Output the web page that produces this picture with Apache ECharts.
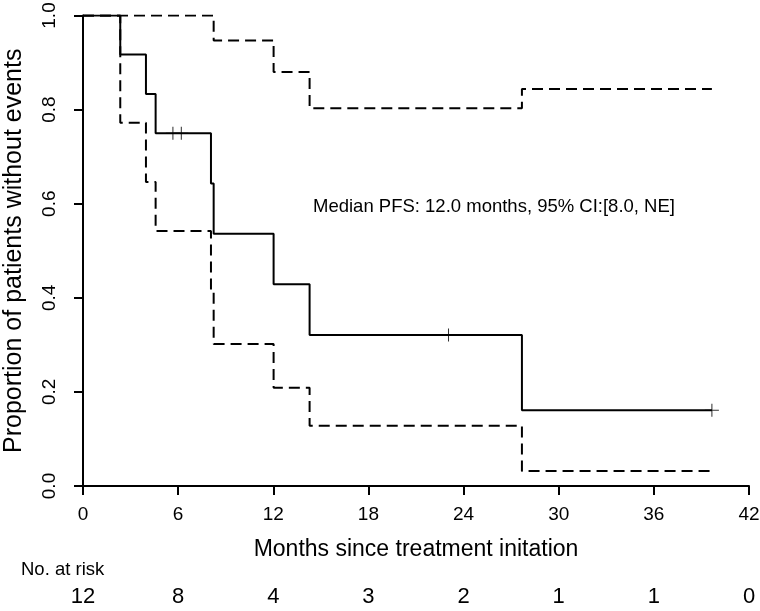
<!DOCTYPE html>
<html>
<head>
<meta charset="utf-8">
<script src="https://cdn.jsdelivr.net/npm/echarts@6/dist/echarts.min.js"></script>
<style>html,body{margin:0;padding:0;background:#fff;}#c{width:760px;height:611px;}</style>
</head>
<body>
<div id="c"></div>
<script>
// ---- data ----
var kmTimes  = [0, 2.35, 3.97, 4.58, 8.07, 8.24, 12.02, 14.29, 27.68, 39.66];
var kmSurv   = [1.0, 0.917, 0.833, 0.750, 0.643, 0.536, 0.429, 0.321, 0.161, 0.161];
var upTimes  = [0, 8.24, 12.02, 14.29, 27.68, 39.66];
var upSurv   = [1.0, 0.947, 0.880, 0.803, 0.844, 0.844];
var loTimes  = [0, 2.35, 3.97, 4.58, 8.07, 8.24, 12.02, 14.29, 27.68, 39.66];
var loSurv   = [1.0, 0.772, 0.646, 0.542, 0.411, 0.302, 0.209, 0.128, 0.032, 0.032];
var censorTimes = [5.67, 6.2, 23.05, 39.66];
var censorSurv  = [0.750, 0.750, 0.321, 0.161];
var xTicks   = [0, 6, 12, 18, 24, 30, 36, 42];
var atRisk   = [12, 8, 4, 3, 2, 1, 1, 0];
var yTickLabels = ['0.0', '0.2', '0.4', '0.6', '0.8', '1.0'];
var medianText = 'Median PFS: 12.0 months, 95% CI:[8.0, NE]';

function zip(a, b) { return a.map(function (v, i) { return [v, b[i]]; }); }

var FONT = '"Liberation Sans", Arial, sans-serif';
var chart = echarts.init(document.getElementById('c'), null, {renderer: 'canvas'});
var option = {
  animation: false,
  backgroundColor: '#fff',
  textStyle: {fontFamily: FONT, color: '#000'},
  grid: {left: 83, right: 11, top: 15.5, bottom: 125, containLabel: false, outerBoundsMode: 'none'},
  xAxis: [{
    type: 'value', min: 0, max: 42, interval: 6,
    axisLine: {show: true, onZero: false, lineStyle: {color: '#000', width: 2}},
    axisTick: {show: true, length: 9, lineStyle: {color: '#000', width: 2}},
    axisLabel: {fontSize: 19, color: '#000', margin: 19, fontFamily: FONT},
    splitLine: {show: false},
    name: 'Months since treatment initation', nameLocation: 'middle', nameGap: 52,
    nameTextStyle: {fontSize: 23, color: '#000', fontFamily: FONT}
  }, {
    type: 'value', min: 0, max: 42, interval: 6, position: 'bottom', offset: 100,
    axisLine: {show: false}, axisTick: {show: false}, splitLine: {show: false},
    axisLabel: {fontSize: 22, color: '#000', margin: 0, fontFamily: FONT,
      formatter: function (v) { var i = xTicks.indexOf(v); return i >= 0 ? String(atRisk[i]) : ''; }}
  }],
  yAxis: {
    type: 'value', min: 0, max: 1, interval: 0.2,
    axisLine: {show: true, lineStyle: {color: '#000', width: 2}},
    axisTick: {show: true, length: 9, lineStyle: {color: '#000', width: 2}},
    axisLabel: {fontSize: 19, color: '#000', rotate: 90, margin: 24, fontFamily: FONT,
      formatter: function (v) { return yTickLabels[Math.round(v * 5)]; }},
    splitLine: {show: false},
    name: 'Proportion of patients without events', nameLocation: 'middle', nameGap: 56,
    nameRotate: 90,
    nameTextStyle: {fontSize: 25, color: '#000', fontFamily: FONT}
  },
  graphic: [
    {type: 'text', left: 313, top: 197, style: {text: medianText, font: '18.5px ' + FONT, fill: '#000'}},
    {type: 'text', left: 21, top: 560, style: {text: 'No. at risk', font: '18.5px ' + FONT, fill: '#000'}}
  ],
  series: [
    {type: 'line', name: 'upper', step: 'end', data: zip(upTimes, upSurv), symbol: 'none',
      lineStyle: {color: '#000', width: 2, type: [11, 6]}, z: 2},
    {type: 'line', name: 'lower', step: 'end', data: zip(loTimes, loSurv), symbol: 'none',
      lineStyle: {color: '#000', width: 2, type: [11, 6]}, z: 2},
    {type: 'line', name: 'KM', step: 'end', data: zip(kmTimes, kmSurv), symbol: 'none',
      lineStyle: {color: '#000', width: 2}, z: 3},
    {type: 'scatter', name: 'censored', data: zip(censorTimes, censorSurv),
      symbol: 'path://M0,5L10,5M5,0L5,10', symbolSize: [14, 13],
      itemStyle: {color: 'none', borderColor: '#000', borderWidth: 1}, z: 4}
  ]
};
chart.setOption(option);
</script>
</body>
</html>
